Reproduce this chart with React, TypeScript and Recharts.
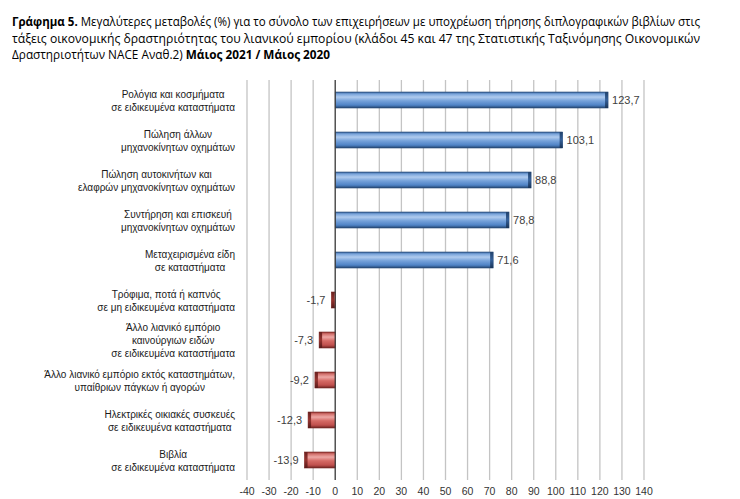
import React from "react";
import {
  BarChart,
  Bar,
  XAxis,
  YAxis,
  CartesianGrid,
  ReferenceLine,
  LabelList,
} from "recharts";

const categories: string[] = [
  "Ρολόγια και κοσμήματα\nσε ειδικευμένα καταστήματα",
  "Πώληση άλλων\nμηχανοκίνητων οχημάτων",
  "Πώληση αυτοκινήτων και\nελαφρών μηχανοκίνητων οχημάτων",
  "Συντήρηση και επισκευή\nμηχανοκίνητων οχημάτων",
  "Μεταχειρισμένα είδη\nσε καταστήματα",
  "Τρόφιμα, ποτά ή καπνός\nσε μη ειδικευμένα καταστήματα",
  "Άλλο λιανικό εμπόριο\nκαινούργιων ειδών\nσε ειδικευμένα καταστήματα",
  "Άλλο λιανικό εμπόριο εκτός καταστημάτων,\nυπαίθριων πάγκων ή αγορών",
  "Ηλεκτρικές οικιακές συσκευές\nσε ειδικευμένα καταστήματα",
  "Βιβλία\nσε ειδικευμένα καταστήματα",
];

const changes: number[] = [123.7, 103.1, 88.8, 78.8, 71.6, -1.7, -7.3, -9.2, -12.3, -13.9];

const xTicks: number[] = [-40, -30, -20, -10, 0, 10, 20, 30, 40, 50, 60, 70, 80, 90, 100, 110, 120, 130, 140];

const titleLines = [
  [
    { t: "Γράφημα 5.", b: true },
    { t: " Μεγαλύτερες μεταβολές (%) για το σύνολο των επιχειρήσεων με υποχρέωση τήρησης διπλογραφικών βιβλίων στις", b: false },
  ],
  [
    { t: "τάξεις οικονομικής δραστηριότητας του λιανικού εμπορίου (κλάδοι 45 και 47 της Στατιστικής Ταξινόμησης Οικονομικών", b: false },
  ],
  [
    { t: "Δραστηριοτήτων NACE Αναθ.2) ", b: false },
    { t: "Μάιος 2021 / Μάιος 2020", b: true },
  ],
];
const titleWidths: number[] = [688, 688, 318];

const data = categories.map((name, i) => ({ name, value: changes[i] }));

const FONT = "'Liberation Sans', Arial, sans-serif";
const TITLE_FONT = "'Open Sans', 'Liberation Sans', sans-serif";
const CAT_SIZE = 10;
const TITLE_SIZE = 13;

let ctx: CanvasRenderingContext2D | null = null;
function measure(text: string, font: string): number {
  if (!ctx) {
    const c = document.createElement("canvas");
    ctx = c.getContext("2d");
  }
  if (!ctx) return text.length * 6;
  ctx.font = font;
  return ctx.measureText(text).width;
}

const CategoryTick = (props: any) => {
  const { x, y, payload } = props;
  const lines: string[] = String(payload.value).split("\n");
  const maxW = Math.max(...lines.map((l) => measure(l, `${CAT_SIZE}px "Liberation Sans"`)));
  const right = x - 4;
  const cx = right - maxW / 2;
  const lh = 13;
  const startY = y - ((lines.length - 1) * lh) / 2;
  return (
    <text
      x={cx}
      y={startY}
      textAnchor="middle"
      fontFamily={FONT}
      fontSize={CAT_SIZE}
      fill="#1a1a1a"
      dominantBaseline="central"
    >
      {lines.map((l, i) => (
        <tspan key={i} x={cx} y={startY + i * lh}>
          {l}
        </tspan>
      ))}
    </text>
  );
};

const BarShape = (props: any) => {
  const { x, y, width, height, value } = props;
  const left = Math.min(x, x + width);
  const w = Math.abs(width);
  const pos = (Array.isArray(value) ? value[1] - value[0] : value) >= 0;
  const grad = pos ? "url(#gBlue)" : "url(#gRed)";
  const capGrad = pos ? "url(#gBlueCap)" : "url(#gRedCap)";
  const cap = Math.min(3, w);
  const capX = pos ? left + w - cap : left;
  return (
    <g>
      <rect x={left} y={y} width={w} height={height} fill={grad} stroke={pos ? "#2b4c77" : "#7a2826"} strokeWidth={0.6} />
      <rect x={capX} y={y} width={cap} height={height} fill={capGrad} />
    </g>
  );
};

const ValueLabel = (props: any) => {
  const { x, y, width, height, value } = props;
  const left = Math.min(x, x + width);
  const right = Math.max(x, x + width);
  const pos = value >= 0;
  const tx = pos ? right + 4 : left - 6;
  return (
    <text
      x={tx}
      y={y + height / 2}
      textAnchor={pos ? "start" : "end"}
      dominantBaseline="central"
      fontFamily={FONT}
      fontSize={11}
      fill="#404040"
    >
      {Number(value).toFixed(1).replace(".", ",")}
    </text>
  );
};

function Title() {
  return (
    <>
      {titleLines.map((segs, i) => {
        const natural = segs.reduce(
          (acc, s) => acc + measure(s.t, `${s.b ? "bold " : ""}${TITLE_SIZE}px "Open Sans"`),
          0
        );
        const k = natural > 0 ? titleWidths[i] / natural : 1;
        return (
          <div
            key={i}
            style={{
              position: "absolute",
              left: 12,
              top: 13 + i * 16.5,
              whiteSpace: "nowrap",
              fontFamily: TITLE_FONT,
              fontSize: TITLE_SIZE,
              lineHeight: "16px",
              color: "#000",
              transform: `scaleX(${k})`,
              transformOrigin: "0 0",
            }}
          >
            {segs.map((s, j) => (
              <span key={j} style={{ fontWeight: s.b ? "bold" : "normal" }}>
                {s.t}
              </span>
            ))}
          </div>
        );
      })}
    </>
  );
}

export default function App() {
  return (
    <div style={{ position: "absolute", left: 0, top: 0, width: 740, height: 499, background: "#fff" }}>
      <div style={{ position: "absolute", left: 0, top: 0 }}>
        <BarChart
          width={740}
          height={499}
          data={data}
          layout="vertical"
          margin={{ top: 80, right: 96, bottom: 0, left: 7 }}
          barSize={16}
        >
          <defs>
            <linearGradient id="gBlue" x1="0" y1="0" x2="0" y2="1">
              <stop offset="0%" stopColor="#2f5a90" />
              <stop offset="12%" stopColor="#78a3da" />
              <stop offset="32%" stopColor="#b0cbee" />
              <stop offset="55%" stopColor="#76a2da" />
              <stop offset="82%" stopColor="#4f83c6" />
              <stop offset="100%" stopColor="#244570" />
            </linearGradient>
            <linearGradient id="gBlueCap" x1="0" y1="0" x2="0" y2="1">
              <stop offset="0%" stopColor="#22426b" />
              <stop offset="50%" stopColor="#34609a" />
              <stop offset="100%" stopColor="#1b3557" />
            </linearGradient>
            <linearGradient id="gRed" x1="0" y1="0" x2="0" y2="1">
              <stop offset="0%" stopColor="#8c2f2c" />
              <stop offset="12%" stopColor="#d3706c" />
              <stop offset="32%" stopColor="#eda8a5" />
              <stop offset="55%" stopColor="#d56a65" />
              <stop offset="82%" stopColor="#c0504d" />
              <stop offset="100%" stopColor="#6e2321" />
            </linearGradient>
            <linearGradient id="gRedCap" x1="0" y1="0" x2="0" y2="1">
              <stop offset="0%" stopColor="#6a2220" />
              <stop offset="50%" stopColor="#96332f" />
              <stop offset="100%" stopColor="#571b1a" />
            </linearGradient>
          </defs>
          <CartesianGrid horizontal={false} stroke="#c4c4c4" strokeWidth={1.3} />
          <XAxis
            type="number"
            domain={[-40, 140]}
            ticks={xTicks}
            interval={0}
            axisLine={false}
            tickLine={false}
            height={19}
            tick={{ fontFamily: FONT, fontSize: 10.5, fill: "#333" }}
            allowDataOverflow
          />
          <YAxis
            type="category"
            dataKey="name"
            width={240}
            axisLine={false}
            tickLine={false}
            interval={0}
            tick={<CategoryTick />}
          />
          <ReferenceLine x={0} stroke="#3a3a3a" strokeWidth={1.2} />
          <Bar dataKey="value" isAnimationActive={false} shape={<BarShape />}>
            <LabelList dataKey="value" content={<ValueLabel />} />
          </Bar>
        </BarChart>
      </div>
      <Title />
    </div>
  );
}
